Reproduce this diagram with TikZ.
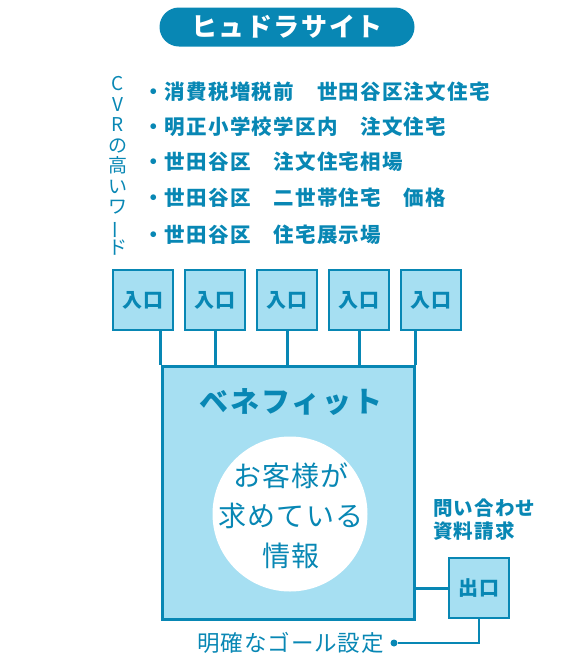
\documentclass[tikz,border=0pt]{standalone}
\usepackage{fontspec}
\usetikzlibrary{positioning}
\setmainfont{Noto Sans CJK JP}
\newfontfamily\jpwide[LetterSpace=6]{Noto Sans CJK JP}
\newfontfamily\jpthin[LetterSpace=4]{Noto Sans CJK JP}
\definecolor{hydblue}{HTML}{0887B4}
\definecolor{hydlight}{HTML}{A6DFF2}
\tikzset{%
	pill/.style     = {fill=hydblue, rounded corners=19.5pt, minimum width=255pt, minimum height=39pt, inner sep=0pt, text=white, font=\jpwide\bfseries\fontsize{26}{26}\selectfont},
	keyword/.style  = {anchor=west, inner sep=0pt, text=hydblue, font=\jpwide\bfseries\fontsize{20.5}{20.5}\selectfont},
	gate/.style     = {draw=hydblue, fill=hydlight, line width=2.5pt, minimum width=60pt, minimum height=60pt, inner sep=0pt, text=hydblue, font=\jpwide\bfseries\fontsize{20}{20}\selectfont},
	link/.style     = {draw=hydblue, line width=3pt},
	thinlabel/.style= {inner sep=0pt, text=hydblue, font=\jpthin\fontsize{28}{40}\selectfont, align=center},
}

\begin{document}
\begin{tikzpicture}[x=1pt,y=-1pt]
	\useasboundingbox (0,0) rectangle (570,662);
	% title
	\node[pill] (title) at (287,27) {ヒュドラサイト};
	% keywords
	\node[inner sep=0pt, text=hydblue, font=\fontsize{19}{20.5}\selectfont, align=center] (cvr) at (118,166)
		{C\\V\\R\\の\\高\\い\\ワ\\\rotatebox[origin=c]{90}{ー}\\ド};
	\node[keyword] (kw1) at (143,92) {・消費税増税前　世田谷区注文住宅};
	\node[keyword] (kw2) at (143,127) {・明正小学校学区内　注文住宅};
	\node[keyword] (kw3) at (143,162) {・世田谷区　注文住宅相場};
	\node[keyword] (kw4) at (143,198) {・世田谷区　二世帯住宅　価格};
	\node[keyword] (kw5) at (143,235) {・世田谷区　住宅展示場};
	% entries
	\foreach \i/\x in {1/143,2/215,3/287,4/359,5/431}
		\node[gate] (in\i) at (\x,300) {入口};
	% main box
	\node[draw=hydblue, fill=hydlight, line width=3pt, minimum width=252pt, minimum height=253pt, inner sep=0pt] (main) at (288,493) {};
	\node[text=hydblue, inner sep=0pt, font=\jpwide\bfseries\fontsize{29}{29}\selectfont] (benefit) at (291,402) {ベネフィット};
	\node[circle, fill=white, minimum size=155pt, inner sep=0pt] (info) at (290,514) {};
	\node[thinlabel] (infotext) at (291,516) {お客様が\\求めている\\情報};
	\draw[link] (in1.south -| main.north west) -- (main.north west);
	\foreach \i in {2,3,4}
		\draw[link] (in\i.south) -- (in\i.south |- main.north);
	\draw[link] (in5.south -| main.north east) -- (main.north east);
	% exit
	\node[gate] (out) at (479,588) {出口};
	\node[anchor=west, inner sep=0pt, text=hydblue, align=left, font=\jpwide\bfseries\fontsize{19.5}{23}\selectfont] (inquiry) at (433,520) {問い合わせ\\資料請求};
	\draw[link] (out.west -| main.east) -- (out.west);
	% goal
	\node[circle, fill=hydblue, minimum size=7pt, inner sep=0pt] (dot) at (394,643) {};
	\node[anchor=east, inner sep=0pt, text=hydblue, font=\jpthin\fontsize{22.5}{22.5}\selectfont] (goal) at (384,643) {明確なゴール設定};
	\draw[hydblue, line width=2.5pt] (out.south) -- (out.south |- dot) -- (dot);
\end{tikzpicture}
\end{document}
